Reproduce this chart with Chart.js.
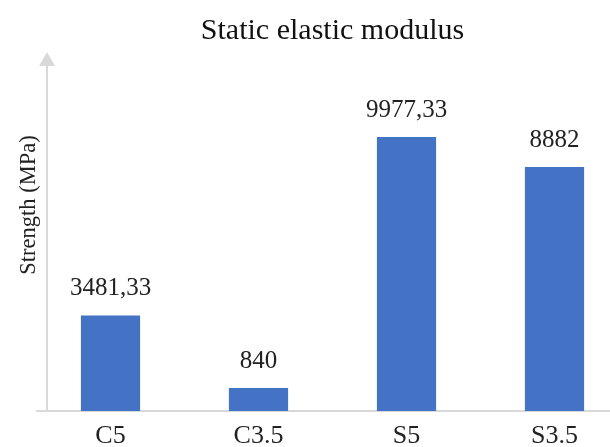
<!DOCTYPE html>
<html>
<head>
<meta charset="utf-8">
<script src="https://cdn.jsdelivr.net/npm/chart.js@4"></script>
<style>
  html, body { margin: 0; padding: 0; background: #fff; }
  .frame { width: 610px; height: 447px; overflow: hidden; }
  .box { width: 630px; height: 461px; position: relative; }
</style>
</head>
<body>
<div class="frame">
  <div class="box"><canvas id="modulusChart"></canvas></div>
</div>
<script>
  // Mẫu thí nghiệm và mô đun đàn hồi tĩnh (MPa)
  const categories = ['C5', 'C3.5', 'S5', 'S3.5'];
  const modulusValues = [3481.33, 840, 9977.33, 8882];
  const yMax = 12600;

  const FONT = "'Liberation Serif', 'Times New Roman', serif";
  const TEXT = '#222222';
  const AXIS = '#d9d9d9';

  // Số thập phân kiểu dấu phẩy: 9977.33 -> "9977,33"
  function fmt(v) {
    return String(v).replace('.', ',');
  }

  // Nhãn giá trị trên đầu cột
  const barLabels = {
    id: 'barLabels',
    afterDatasetsDraw(chart) {
      const ctx = chart.ctx;
      const meta = chart.getDatasetMeta(0);
      ctx.save();
      ctx.font = '25px ' + FONT;
      ctx.fillStyle = TEXT;
      ctx.textAlign = 'center';
      ctx.textBaseline = 'alphabetic';
      meta.data.forEach(function(bar, i) {
        ctx.fillText(fmt(modulusValues[i]), bar.x, bar.y - 20);
      });
      ctx.restore();
    }
  };

  // Trục tung: đường xám có mũi tên và tiêu đề xoay dọc
  const arrowAxis = {
    id: 'arrowAxis',
    afterDraw(chart) {
      const ctx = chart.ctx;
      const a = chart.chartArea;
      const x = a.left + 10.5;
      ctx.save();
      ctx.strokeStyle = AXIS;
      ctx.lineWidth = 2;
      ctx.beginPath();
      ctx.moveTo(x, a.bottom);
      ctx.lineTo(x, a.top);
      ctx.stroke();
      ctx.fillStyle = AXIS;
      ctx.beginPath();
      ctx.moveTo(x, a.top - 13);
      ctx.lineTo(x - 8, a.top + 1);
      ctx.lineTo(x + 8, a.top + 1);
      ctx.closePath();
      ctx.fill();

      ctx.translate(29, 205);
      ctx.rotate(-Math.PI / 2);
      ctx.font = '22.5px ' + FONT;
      ctx.fillStyle = TEXT;
      ctx.textAlign = 'center';
      ctx.textBaseline = 'middle';
      ctx.fillText('Strength (MPa)', 0, 0);
      ctx.restore();
    }
  };

  const ctx = document.getElementById('modulusChart').getContext('2d');
  new Chart(ctx, {
    type: 'bar',
    data: {
      labels: categories,
      datasets: [{
        label: 'Static elastic modulus',
        data: modulusValues,
        backgroundColor: '#4472c4',
        borderWidth: 0,
        categoryPercentage: 1,
        barPercentage: 0.4
      }]
    },
    options: {
      responsive: true,
      maintainAspectRatio: false,
      animation: false,
      layout: { padding: { left: 36.5, right: 1.5, top: 0, bottom: 0 } },
      plugins: {
        legend: { display: false },
        tooltip: { enabled: false },
        title: {
          display: true,
          fullSize: false,
          text: 'Static elastic modulus',
          color: '#111111',
          font: { family: FONT, size: 30, weight: 'normal', lineHeight: 1.2 },
          padding: { top: 13, bottom: 16 }
        }
      },
      scales: {
        x: {
          grid: { display: false, drawTicks: false },
          border: { display: true, color: AXIS, width: 2 },
          ticks: {
            color: TEXT,
            padding: 12,
            font: { family: FONT, size: 26, lineHeight: 1 }
          }
        },
        y: {
          display: false,
          min: 0,
          max: yMax
        }
      }
    },
    plugins: [barLabels, arrowAxis]
  });
</script>
</body>
</html>
